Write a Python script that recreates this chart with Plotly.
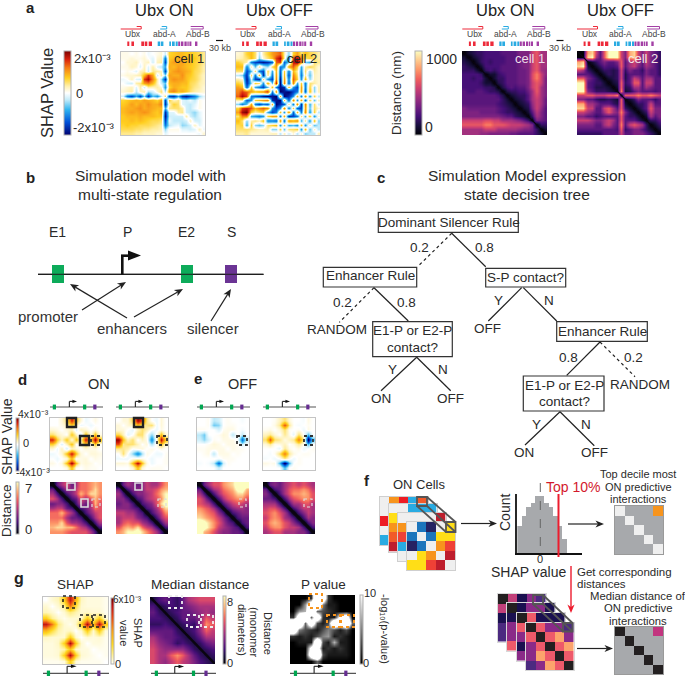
import math
import plotly.graph_objects as go

W, H = 685, 677
FONT = "Liberation Sans"
TXT = "#2a2a2a"

# ---------- data (upper triangles) ----------
shap_on_tri = [
 [1,1,0,1,0,1,-1,0,1,2,-3,8,9,10,10,9,9,8,7,5],
 [1,2,1,1,2,0,-2,2,3,-14,9,10,11,11,10,9,9,7,5],
 [2,3,0,2,3,-3,3,4,-18,10,12,11,12,10,10,8,7,5],
 [2,-2,3,-2,4,-2,-4,-10,11,10,12,11,10,9,8,6,4],
 [3,4,-3,5,4,3,-18,10,12,13,12,11,10,7,6,4],
 [10,18,12,-3,4,-6,12,11,11,13,10,9,7,5,3],
 [22,14,4,-5,-20,11,13,12,12,10,8,7,5,3],
 [10,3,-3,-8,10,11,11,10,10,7,6,4,3],
 [4,2,-12,8,11,10,9,9,7,5,4,2],
 [6,-4,12,14,10,11,9,6,4,3,2],
 [6,-18,-20,-10,-20,-22,-18,-14,-6,-2],
 [8,3,5,-2,-3,-1,-4,1,0],
 [8,6,-2,-3,-4,-2,1,0],
 [6,4,-3,-4,-1,1,0],
 [5,-3,-4,-6,-2,0],
 [4,-3,-5,-2,0],
 [3,-3,-3,0],
 [3,-2,0],
 [3,-1],
 [2]]
shap_off_tri = [
 [2,3,8,10,6,-4,4,8,12,14,16,4,-6,8,12,6,10,7,6,4],
 [4,6,10,6,-6,2,6,10,18,22,4,-14,18,22,14,6,8,6,4],
 [4,-14,-18,-20,-22,-20,-16,16,18,-16,-8,20,24,14,-6,-10,6,5],
 [4,-8,6,-2,-6,8,12,-14,-12,12,16,8,-10,4,8,5,2],
 [6,-14,-18,8,-10,10,-16,8,-14,10,4,-12,6,-6,4,2],
 [10,-20,6,-14,12,-18,10,-18,14,6,-14,4,-8,3,2],
 [6,-12,-18,14,-22,12,-14,16,8,-12,10,-6,3,2],
 [12,-8,20,-24,14,-16,14,-10,8,-14,6,4,2],
 [10,-14,-22,-20,10,-12,-18,12,-14,8,-6,3],
 [14,-24,-22,-24,-18,-14,12,-16,10,-6,3],
 [10,-24,-20,-12,10,-14,14,-12,8,-4],
 [8,-16,14,-12,12,-16,8,-8,3],
 [6,-14,14,-20,14,-10,6,-3],
 [8,-16,-18,12,-8,6,2],
 [10,-14,14,-12,8,-4],
 [6,-10,10,-12,2],
 [6,-12,10,-6],
 [4,-8,-4],
 [3,-4],
 [3]]
dist_on_tri = [
 [0,1,1.5,2,2,2.5,2.5,2.5,2.5,3,3,3,3,4,4,4,6,7,5,5],
 [0,1,1.5,2,2.5,2.5,2.5,2.5,2.5,3,3,3,3.5,4,4,6,7,5,5],
 [0,1,2,2.5,2,2.5,2.5,2.5,3,3,3,3.5,4,4,6,7,5,5],
 [0,1,2.5,2.5,2.5,2.5,3,3,3,3,3.5,4,4,6,7,5,5],
 [0,2,2.5,2,2.5,3,3,3,3,3.5,3.5,4,6,7,5,4.5],
 [0,1,1,2,2.5,3,3,3,3.5,3.5,4,6.5,8,6,4.5],
 [0,1,2,2,3,3,3,3.5,3.5,4,6.5,8,6,4],
 [0,1.5,2,3,3,3,3.5,3.5,4,6,7,6,4],
 [0,1.5,2.5,3,2.5,3,3,4,6,7,5,4],
 [0,1.5,2,2,2.5,2.5,3.5,5,7,5,4],
 [0,1,1.5,2,2,3,5,6.5,5,4],
 [0,1,1.5,2,3,5,6,5,3.5],
 [0,1,1.5,2,4.5,6,5,3.5],
 [0,1,1.5,4,6,4.5,3],
 [0,1,3,5.5,4,3],
 [0,2,5,4,3],
 [0,4,3.5,3],
 [0,2,2],
 [0,1],
 [0]]
dist_off_tri = [
 [0,0,9,10,6,3,7,11,11,11,6,4,9,10,6,4,6,4,3,2],
 [0,10,11,5,3,7,11,11,11,6,4,9,10,6,4,6,4,3,2],
 [0,1,2,3,4,3,3,4,7,3,5,6,5,3,6,4,3,2],
 [0,1,2,3,2.5,2.5,3,7,3,5,6,4,3,5,4,3,2],
 [0,1,2,2,1.5,2,6,2,4,3,3,2,4,3,3,2],
 [0,1,2,1.5,2,6,1.5,3,3,3,2.5,4,3,3,2],
 [0,1,1.5,2,6,1.5,3,6,5,3,5,5,3,3],
 [0,1,1.5,7,2,3,7,7,3,6,6,3,3],
 [0,1,7,1.5,2,5,5,3,5,4,3,3],
 [0,8,1,1.5,3,4,3,3,3,2.5,3],
 [0,7,7,7,8,7,7,8,7,6],
 [0,1,2,4,3,3,3,2,3],
 [0,1,2,2,3,6,3,3],
 [0,1,2,3,7,4,4],
 [0,1,2,6,4,4],
 [0,1,5,3,4],
 [0,2,2,3],
 [0,1,2],
 [0,1],
 [0]]
d1_shap_tri = [
 [0,0,.3,1,3.2,1.4,.3,-.2,0,.2,0],
 [0,.2,.5,1.4,.5,-.2,0,-.2,0,0],
 [0,.3,.5,-.4,.5,.3,0,.2,0],
 [0,1.5,.5,-.5,1.6,.2,1.6,.2],
 [.3,1.6,.5,3.4,1.6,3.8,1.6],
 [0,.3,1.5,0,1.5,.1],
 [0,.3,.2,.2,0],
 [0,.3,.3,.2],
 [0,.2,.1],
 [0,.1],
 [0]]
d2_shap_tri = [
 [0,.3,.3,1.2,3.8,2.8,.8,0,-.2,.3,0],
 [0,.3,.5,1.6,.8,.8,1,-.2,.3,0],
 [0,-.3,.5,1,.6,0,-.2,.2,0],
 [0,1,1,0,-1,.2,1.6,.3],
 [0,.5,.2,-2.2,.3,3.6,1.6],
 [0,.3,-.8,.2,1.6,.3],
 [0,.2,0,.2,0],
 [0,-.2,-.2,.1],
 [0,0,.1],
 [0,.1],
 [0]]
e1_shap_tri = [
 [0,0,.1,-.7,-.5,0,.1,0,0,-.1,0],
 [0,.1,-1.2,-1,0,.1,.1,0,0,0],
 [0,0,-.4,.1,.2,.2,0,-.1,0],
 [0,.1,.3,.2,-.7,.1,-.6,0],
 [0,.2,.2,.2,-.1,-2.6,-.6],
 [0,.2,.2,.1,-.5,0],
 [0,.2,.1,.1,0],
 [0,.1,0,0],
 [0,0,0],
 [0,0],
 [0]]
e2_shap_tri = [
 [0,0,.1,.5,1,.3,0,0,-.1,.2,0],
 [0,.2,.8,2.8,.8,0,-.1,0,.1,0],
 [0,.3,1,.1,0,.1,-.2,.2,0],
 [0,.8,.2,-.3,1,0,-1.4,0],
 [.2,.5,.8,2.4,.8,-4.4,-1.4],
 [0,.2,.8,.1,-1.4,0],
 [0,.2,-.2,0,.1],
 [0,.1,.1,0],
 [0,0,0],
 [0,0],
 [0]]
d1_dist_tri = [
 [0,2,3,4,2,3,4.5,4.5,5,5.5,5],
 [0,1.5,3,2.5,3.5,4.5,4.5,5,6,5],
 [0,1.5,2.5,3.5,5.5,4.5,6,6,5],
 [0,1.5,2,4,3,4,5.5,4.5],
 [0,1.5,3,2,3,5.5,4],
 [0,1.5,2,3,4.5,4],
 [0,1.5,2.5,3.5,4],
 [0,1.5,3,4],
 [0,1.5,3],
 [0,1.5],
 [0]]
d2_dist_tri = [
 [0,2,3,2.5,2,2.5,3.5,3,3,4,5],
 [0,1.5,2.5,2.5,2.5,3.5,3.5,4,5,5.5],
 [0,1.5,2.5,2.5,3,3.5,4.5,5.5,6.5],
 [0,1.5,2,3,3.5,4,5,6.5],
 [0,1.5,2,2.5,4,6,7],
 [0,1.5,2,3,4.5,6],
 [0,1.5,2.5,3.5,5],
 [0,1.5,3,4],
 [0,1.5,3],
 [0,1.5],
 [0]]
e1_dist_tri = [
 [0,2,3,4,4,5,5.5,6,7.5,8,7.5],
 [0,1.5,3,3.5,4.5,5,5.5,7,7.5,5.5],
 [0,1.5,3,4,4.5,5,6,6,5],
 [0,1.5,3,4,4.5,5,5,4],
 [0,1.5,2.5,3.5,4,3.5,3],
 [0,1.5,2.5,3,3,2.5],
 [0,1.5,2,2.5,2.5],
 [0,1.5,2,2],
 [0,1.5,2],
 [0,1.5],
 [0]]
e2_dist_tri = [
 [0,2,2.5,2,3,3.5,4,3.5,4,3.5,3],
 [0,1.5,2,3,4,4.5,4.5,5,4.5,3.5],
 [0,1.5,3,4,5,5,5.5,5,4],
 [0,1.5,3,4,4.5,5,5,4],
 [0,1.5,3,3,4,4,3],
 [0,1.5,2.5,3.5,3.5,3],
 [0,1.5,2.5,3.5,3],
 [0,1.5,3,2.5],
 [0,1.5,2.5],
 [0,1.5],
 [0]]
g_shap_tri = [
 [0,.3,.5,2,5.2,2.5,.4,.2,.2,.2,.1],
 [0,.3,.8,3.5,1.5,.3,.2,.2,.2,.1],
 [0,.3,1,.6,.3,.4,.3,.3,.1],
 [.1,.3,.3,.3,2,.6,2,.2],
 [.1,.4,2,5.5,2.2,5.5,2],
 [0,.3,2,.3,2,.2],
 [0,.3,.2,.3,.1],
 [0,.2,.2,.1],
 [0,.1,.1],
 [0,.1],
 [0]]
g_dist_tri = [
 [1,2,2.5,2,1.5,2.5,4,4.5,5,5,5],
 [1,1.5,2,1.5,2.5,3,3.5,4,4,4],
 [1,1.5,2,2.5,2.5,3,3.5,4,3.5],
 [1,1.5,2.5,2.5,2.5,3.5,5.5,4.5],
 [1,1.5,2,1.5,3.5,6.5,5.5],
 [1,1.5,2,3.5,5.5,4.5],
 [1,1.5,2.5,4,4],
 [1,1.5,2.5,3],
 [1,1.5,2],
 [1,1.5],
 [1]]
g_pval_tri = [
 [0,0,0,2,24,20,2,0,0,0,0],
 [0,6,16,24,5,1,1,0,0,0],
 [7,24,4,3,2,1,0,0,0],
 [4,18,2,1,1,12,16,0],
 [3,1,3,22,14,24,4],
 [3,5,3,1,3,0],
 [6,1,2,1,0],
 [7,1,1,0],
 [2,1,0],
 [1,0],
 [0]]

hist_counts = [80,112,138,150,172,172,150,138,112,80,42]

on_back  = [[0,1,2,4,8],[0,0,4,4,4],[2,0,0,3,0],[0,0,0,0,3],[4,0,0,0,0]]
on_mid1  = [[0,0,4,4,4],[7,0,0,4,4],[1,0,0,0,3],[8,9,0,0,0],[3,8,1,0,0]]
on_mid2  = [[0,0,0,0,3],[1,1,0,0,0],[9,9,0,0,0],[4,6,5,0,0],[0,7,7,1,0]]
on_front = [[0,5,6,0,7],[5,0,5,7,7],[6,5,0,1,9],[0,7,1,0,3],[7,7,9,3,0]]
top_decile = [[0,1,1,1,2],[1,0,1,1,1],[1,1,0,1,1],[1,1,1,0,1],[1,1,1,1,0]]

d_back  = [[0,1,2,3,4],[1,0,2,3,4],[2,2,0,2,3],[4,3,2,0,3],[4,3,3,3,0]]
d_mid1  = [[0,2,3,3,2],[2,0,2,3,2],[3,2,0,2,2],[3,3,2,0,2],[5,3,3,2,0]]
d_mid2  = [[0,5,2,2,2],[5,0,5,3,2],[3,5,0,5,3],[2,3,5,0,5],[3,2,3,5,0]]
d_front = [[0,5,3,3,4],[5,0,5,6,3],[3,5,0,5,6],[3,6,5,0,5],[4,3,6,5,0]]
median_on = [[0,1,1,1,2],[1,0,1,1,1],[1,1,0,1,1],[1,1,1,0,1],[1,1,1,1,0]]

# ---------- palettes ----------
SHAP_CS = [[0,"#00006f"],[.15,"#0050d8"],[.3,"#2fb4f0"],[.42,"#c4ecfa"],[.5,"#ffffff"],
           [.58,"#fff0ae"],[.68,"#ffcf20"],[.8,"#f57c14"],[.9,"#d8200c"],[1,"#7a0000"]]
G_CS = [[0,"#ffffff"],[.03,"#fffbe0"],[.12,"#fff2a0"],[.3,"#ffd820"],[.5,"#f9a018"],[.7,"#e84a14"],[.88,"#c01414"],[1,"#6e0000"]]
GREY_CS = [[0,"#000000"],[1,"#ffffff"]]
CELL_ON = ["#efefef","#f7941d","#ed1c24","#be1e2d","#29abe2","#1c75bc","#262262","#ffde17","#f15a29","#ef4136"]
CELL_TOP = ["#efefef","#a7a9ac","#f7941d"]
CELL_D = ["#231f20","#c2407a","#1a1050","#8a2a88","#4b2a80","#ee5a6a","#fca46c"]
CELL_MED = ["#231f20","#a7a9ac","#c2357f"]

def sym(tri):
    n = len(tri)
    m = [[0]*n for _ in range(n)]
    for i, row in enumerate(tri):
        for k, v in enumerate(row):
            m[i][i+k] = v
            m[i+k][i] = v
    return m

def steps(cols):
    n = len(cols)
    out = []
    for i, c in enumerate(cols):
        out += [[i/n, c], [(i+1)/n, c]]
    return out

fig = go.Figure()
shapes, annos = [], []
ax_i = 0

def px(x): return x / W
def py(y): return 1 - y / H

def new_axes(box, xr, yr, border="#c4c4c4"):
    global ax_i
    ax_i += 1
    s = "" if ax_i == 1 else str(ax_i)
    x0, y0, x1, y1 = box
    common = dict(showgrid=False, zeroline=False, showticklabels=False, ticks="",
                  showline=bool(border), mirror=bool(border), linecolor=border or "#fff", linewidth=1)
    fig.layout["xaxis"+s] = dict(domain=[px(x0), px(x1)], range=xr, anchor="y"+s, **common)
    fig.layout["yaxis"+s] = dict(domain=[py(y1), py(y0)], range=yr, anchor="x"+s, **common)
    return "x"+s, "y"+s

def heat(tri, box, cs, zmin, zmax, cb=None, diag=0, smooth="best", full=None, border="#c4c4c4"):
    z = full if full is not None else sym(tri)
    n = len(z)
    xa, ya = new_axes(box, [-.5, n-.5], [n-.5, -.5], border)
    tr = dict(z=z, colorscale=cs, zmin=zmin, zmax=zmax, xaxis=xa, yaxis=ya, showscale=False, hoverinfo="skip")
    if smooth:
        tr["zsmooth"] = smooth
    if cb:
        cx0, cy0, cx1, cy1 = cb
        tr.update(showscale=True, colorbar=dict(x=px(cx0), xanchor="left", y=py(cy0), yanchor="top",
                  len=cy1-cy0, lenmode="pixels", thickness=cx1-cx0, thicknessmode="pixels",
                  xpad=0, ypad=0, outlinewidth=1, outlinecolor="#b0b0b0", tickvals=[], showticklabels=False))
    fig.add_trace(go.Heatmap(**tr))
    if diag:
        fig.add_trace(go.Scatter(x=[-.5, n-.5], y=[-.5, n-.5], mode="lines", xaxis=xa, yaxis=ya,
                      line=dict(color="#0a0510", width=diag), showlegend=False, hoverinfo="skip"))

def T(x, y, s, size=12, color=TXT, angle=0, bold=False, anchor="center"):
    annos.append(dict(x=px(x), y=py(y), xref="paper", yref="paper", text=s, showarrow=False,
                      xanchor=anchor, yanchor="middle", textangle=angle,
                      font=dict(family=FONT, size=size, color=color, weight=700 if bold else 400)))

def L(x0, y0, x1, y1, color="#222", w=1.2, dash=None):
    line = dict(color=color, width=w)
    if dash:
        line["dash"] = dash
    shapes.append(dict(type="line", xref="paper", yref="paper", x0=px(x0), y0=py(y0), x1=px(x1), y1=py(y1),
                       line=line, layer="above"))

def R(x0, y0, x1, y1, line="#222", w=1.2, fill=None, dash=None):
    ln = dict(color=line, width=w)
    if dash:
        ln["dash"] = dash
    d = dict(type="rect", xref="paper", yref="paper", x0=px(x0), y0=py(y0), x1=px(x1), y1=py(y1),
             line=ln, layer="above")
    if fill:
        d["fillcolor"] = fill
    shapes.append(d)

def poly(pts, fill="#111"):
    p = "M " + " L ".join(f"{px(a)} {py(b)}" for a, b in pts) + " Z"
    shapes.append(dict(type="path", xref="paper", yref="paper", layer="above", fillcolor=fill,
                       line=dict(width=0), path=p))

def A(x0, y0, x1, y1, color="#222", w=1.2, hl=8.5, hw=3.6):
    d = math.hypot(x1-x0, y1-y0)
    ux, uy = (x1-x0)/d, (y1-y0)/d
    nx, ny = -uy, ux
    bx, by = x1-ux*hl, y1-uy*hl
    nb = .72
    L(x0, y0, x1-ux*hl*nb, y1-uy*hl*nb, color, w)
    poly([(x1,y1), (bx+nx*hw, by+ny*hw), (x1-ux*hl*nb, y1-uy*hl*nb), (bx-nx*hw, by-ny*hw)], color)

def tri_head(x0, ytop, ybot, xtip):
    poly([(x0,ytop), (xtip,(ytop+ybot)/2), (x0,ybot)])

# ---------- panel a ----------
T(30, 7.5, "a", 15, "#222", bold=True)
T(47, 93, "SHAP Value", 16.5, angle=-90)
T(92, 59, "2x10\u207b\u00b3", 13); T(79, 93, "0", 13); T(94, 127, "-2x10\u207b\u00b3", 13)
T(396, 93, "Distance (nm)", 13.5, angle=-90)
T(441, 59, "1000", 14); T(429, 127, "0", 14)

heat(shap_on_tri, (121,52,205,135), SHAP_CS, -24, 24, cb=(64,51,71,135))
heat(shap_off_tri, (236,52,320,135), SHAP_CS, -24, 24)
heat(dist_on_tri, (462,51,547,135), "Magma", 0, 11, cb=(415,51,422,135), diag=1.2, border=None)
heat(dist_off_tri, (577,51,661,135), "Magma", 0, 11, diag=1.2, border=None)

T(189, 59, "cell 1", 13, "#222"); T(302, 59, "cell 2", 13, "#222")
T(530, 59, "cell 1", 13, "#eedfe8"); T(643, 59, "cell 2", 13, "#f4e6e6")

RED, BLUE, PUR = "#ed2a3a", "#29abe2", "#a33fa5"
tick_groups = [(RED,[(6.6,8.6),(10.7,13.3),(20.6,23.3),(24,26.6),(28,31.3)]),
               (BLUE,[(37,39.3),(40,42.7),(48.6,50.3),(51.3,54),(55,57)]),
               (PUR,[(57.5,59.5),(60.3,62.7),(63.7,66),(66.7,68),(68.7,70.7),(74.3,76.7)])]
for x0, title in [(120.7,"Ubx ON"), (235.5,"Ubx OFF"), (462.3,"Ubx ON"), (577,"Ubx OFF")]:
    T(x0+43.5, 10, title, 16.5, "#222")
    L(x0, 29, x0+20.5, 29, RED, 1)
    L(x0+20.5, 29, x0+20.5, 26.5, RED, 1); L(x0+20.5, 26.5, x0+16, 26.5, RED, 1)
    L(x0+39.5, 29, x0+46, 29, BLUE, 1); L(x0+46, 29, x0+46, 26.5, BLUE, 1); L(x0+46, 26.5, x0+41, 26.5, BLUE, 1)
    L(x0+70, 29, x0+82.5, 29, PUR, 1); L(x0+82.5, 29, x0+82.5, 26.5, PUR, 1); L(x0+82.5, 26.5, x0+70, 26.5, PUR, 1)
    T(x0+12.5, 34, "Ubx", 8.5, "#444"); T(x0+43.5, 34, "abd-A", 8.5, "#444"); T(x0+77, 34, "Abd-B", 8.5, "#444")
    for col, segs in tick_groups:
        for a, b in segs:
            R(x0+a, 41.5, x0+b, 46, line=col, w=0, fill=col)
for xb, xt in [(219.5,220), (560,560)]:
    L(xb-3.5, 40.5, xb+3.5, 40.5, "#111", 1.2)
    T(xt, 47.5, "30 kb", 9, "#444")

# ---------- panel b ----------
T(30, 177, "b", 15, "#222", bold=True)
T(150, 175, "Simulation model with", 15.5); T(150, 194, "multi-state regulation", 15.5)
T(57, 232, "E1", 14); T(127, 232, "P", 14); T(187, 232, "E2", 14); T(231, 232, "S", 14)
L(38, 274.3, 263.5, 274.3, "#111", 1.2)
R(52, 265, 64, 283, line="#00a651", w=0, fill="rgba(0,166,81,.95)")
R(181, 265, 193, 283, line="#00a651", w=0, fill="rgba(0,166,81,.95)")
R(225, 265, 237, 283, line="#662d91", w=0, fill="rgba(102,45,145,.97)")
L(38, 274.3, 263.5, 274.3, "#222", 1)
L(122.3, 274.5, 122.3, 255.7, "#111", 2.6); L(121, 255.7, 130, 255.7, "#111", 2.6)
tri_head(128, 250.5, 260.5, 141)
A(82, 310, 126, 282); A(127, 318, 70, 284); A(134, 317, 183, 289); A(211, 321, 231, 289)
T(48, 316, "promoter", 15, "#333"); T(132, 328, "enhancers", 15, "#333"); T(213, 328, "silencer", 15, "#333")

# ---------- panel c ----------
T(381, 177, "c", 15, "#222", bold=True)
T(527, 175, "Simulation Model expression", 15.5); T(527, 194, "state decision tree", 15.5)
for b in [(378.3,212.3,518.3,232.3),(323.3,267.3,416.7,287),(485.7,268.3,565.7,287),
          (372.7,321.7,452.3,356.7),(556.7,321.7,647.3,341.3),(523.3,376,604,411)]:
    R(*b, line="#333", w=1.2)
TS = 13.5
T(448.5, 222, "Dominant Silencer Rule", TS); T(370, 275.7, "Enhancer Rule", TS)
T(525.5, 277.5, "S-P contact?", TS); T(412.5, 330.5, "E1-P or E2-P", TS); T(412.5, 347, "contact?", TS)
T(602, 331, "Enhancer Rule", TS); T(564, 385, "E1-P or E2-P", TS); T(564, 401.5, "contact?", TS)
for seg in [(451.7,233.3,485.7,266.7),(374,287.7,408.3,321),(521.7,287.7,488.3,321),(523.3,287.7,556.7,321),
            (416.7,357.3,381,390.7),(416.7,357.3,450.7,390.7),(600,342,566.7,375.3),
            (560,411.7,525,445),(560,411.7,594.3,445.7)]:
    L(*seg)
for seg in [(451.7,233.3,418.3,266),(374,287.7,339.3,322.3),(600,342,635,376.7)]:
    L(*seg, dash="dot")
for x, y, s in [(419.3,247.7,"0.2"),(484,247.7,"0.8"),(342.3,302.3,"0.2"),(406.7,302.3,"0.8"),
                (499,300,"Y"),(549,300,"N"),(336.7,329.3,"RANDOM"),(487.7,328.3,"OFF"),
                (392.3,369.3,"Y"),(442.7,369.3,"N"),(381,398.3,"ON"),(450.7,398.3,"OFF"),
                (568.7,357.3,"0.8"),(633.3,357.3,"0.2"),(640,384.3,"RANDOM"),(536,424.3,"Y"),
                (586,424.3,"N"),(524.3,452.7,"ON"),(594,452.7,"OFF")]:
    T(x, y, s, TS)

# ---------- tracks for d, e, g ----------
def track(x0, x1, y):
    k = (x1-x0)/52
    L(x0, y, x1, y, "#555", 1.2)
    for rel, col in [(4.3,"#00a651"),(34,"#00a651"),(44,"#662d91")]:
        R(x0+rel*k-1.6, y-2.4*(k**.5), x0+rel*k+1.6, y+2.4*(k**.5), line=col, w=0, fill=col)
    ax = x0 + 19*k
    L(ax, y, ax, y-5.5*k, "#222", 1.1); L(ax, y-5.5*k, ax+3.5*k, y-5.5*k, "#222", 1.1)
    tri_head(ax+3*k, y-5.5*k-1.7, y-5.5*k+1.7, ax+7.5*k)

# ---------- panel d, e ----------
T(22, 380, "d", 15, "#222", bold=True); T(99, 384, "ON", 14.5)
T(197.7, 378, "e", 15, "#222", bold=True); T(243, 384, "OFF", 14.5)
T(7, 437, "SHAP Value", 14, angle=-90); T(7, 511, "Distance", 13.5, angle=-90)
T(33, 414, "4x10\u207b\u00b3", 10.5); T(26, 443, "0", 11); T(33, 472, "-4x10\u207b\u00b3", 10.5)
T(28, 488, "7", 13); T(28, 529, "0", 13)

col_x = [(50,102),(116,168),(197,249),(263,315)]
shap_tris = [d1_shap_tri, d2_shap_tri, e1_shap_tri, e2_shap_tri]
dist_tris = [d1_dist_tri, d2_dist_tri, e1_dist_tri, e2_dist_tri]
for i, ((a, b), st, dt) in enumerate(zip(col_x, shap_tris, dist_tris)):
    heat(st, (a,418,b,470), SHAP_CS, -4, 4, cb=(16,418,19,471) if i == 0 else None)
    heat(dt, (a,482,b,534), "Magma", 0, 6.5, cb=(16,482,19,534) if i == 0 else None, diag=3, border=None)
    track(a, b+1, 407)

for b in [(67,418,76,427),(80,436,89,445),(134,418,143,427)]:
    R(*b, line="#222", w=2.4)
for b in [(91,436,100,445),(157,436,167,445),(237,436,247,445),(304,436,313,445)]:
    R(*b, line="#333", w=1.8, dash="dot")
for b in [(67,483,75,490),(81,499,88,507),(135,483,142,490)]:
    R(*b, line="#ddd", w=1.6)
for b in [(92,499,100,507),(158,499,166,507),(239,499,246,507),(304,499,312,507)]:
    R(*b, line="#ddd", w=1.2, dash="dot")

# ---------- panel g ----------
T(19, 578, "g", 16, "#222", bold=True)
T(75, 584, "SHAP", 13.5); T(200, 584, "Median distance", 13.5); T(323, 584, "P value", 13.5)
heat(g_shap_tri, (43,597,108,664), G_CS, 0, 6, cb=(111,598,114,664))
heat(g_dist_tri, (150,597,215,664), "Magma", 0, 8.5, cb=(223,596,226,664), diag=2.5, border=None)
heat(g_pval_tri, (290,595,355,664), GREY_CS, 0, 10, cb=(360,595,363,664), border=None)
T(128, 599, "6x10\u207b\u00b3", 10); T(118, 664, "0", 11)
T(138, 633, "SHAP", 11, angle=90); T(124, 633, "value", 11, angle=90)
T(230, 602, "8", 11); T(230, 663, "0", 11)
T(268, 633, "Distance", 11, angle=90); T(254, 632, "(monomer", 11, angle=90); T(242, 630, "diameters)", 11, angle=90)
T(370, 593, "10", 11); T(366, 663, "0", 11)
T(385, 629, "-log\u2081\u2080(p-value)", 11, angle=90)
for b in [(63,596,75,608),(80,615,92,627),(93,615,105,627)]:
    R(*b, line="#222", w=1.6, dash="dot")
for b in [(169,596,182,608),(187,615,199,627),(201,615,213,627)]:
    R(*b, line="#eee", w=1.8, dash="dot")
for b in [(309,594,322,608),(327,615,340,627),(341,615,354,627)]:
    R(*b, line="#f7941d", w=2, dash="dot")
for a, b in [(43,109),(151,216),(290,356)]:
    track(a, b, 673.3)

# ---------- panel f ----------
T(367, 481, "f", 15, "#222", bold=True)
T(419, 484, "ON Cells", 13)
on_stack = [(on_back,(379.5,497,427.5,545)),(on_mid1,(388.5,503.5,436.5,551.5)),
            (on_mid2,(397.5,513,445.5,561)),(on_front,(407,522,455,570))]
for z, box in on_stack:
    heat(None, box, steps(CELL_ON), -.5, 9.5, smooth=None, full=z, border="#cfcfcf")
d_stack = [(d_back,(498,594,545.5,641.5)),(d_mid1,(507,603,554.5,650.5)),
           (d_mid2,(517,613,564.5,660.5)),(d_front,(526,622.5,573.5,670))]
for z, box in d_stack:
    heat(None, box, steps(CELL_D), -.5, 6.5, smooth=None, full=z, border="#d8d8d8")
heat(None, (615,506,663,554), steps(CELL_TOP), -.5, 2.5, smooth=None, full=top_decile, border="#9a9a9a")
heat(None, (615,627,663,674), steps(CELL_MED), -.5, 2.5, smooth=None, full=median_on, border="#9a9a9a")

for p in [(417,497,427,506,446,522,455.5,532),(533,595,543,604,563,623,572.5,631.5)]:
    a,b,c,d,e,f_,g_,h = p
    R(a,b,c,d, line="#555", w=1.8); R(e,f_,g_,h, line="#555", w=1.8)
    L(c,b,g_,f_, "#555", 1.8); L(a,d,e,h, "#555", 1.8); L(c,d,g_,h, "#555", 1.8)

xa, ya = new_axes((517.3,493.3,567.3,553.5), [-.5,10.5], [0,180], border=None)
fig.add_trace(go.Bar(x=list(range(len(hist_counts))), y=hist_counts, width=1, marker=dict(color="#a7a9ac", line=dict(width=0)),
                     xaxis=xa, yaxis=ya, showlegend=False, hoverinfo="skip"))
L(516, 494, 516, 554.5, "#111", 1.8); L(515, 554, 582, 554, "#111", 1.8)
L(540.3, 483, 540.3, 553, "#666", 1, dash="dash")
L(558.5, 494, 558.5, 557, "#ed1c2e", 2)
T(573, 487, "Top 10%", 14, "#d3192c")
T(505, 513, "Count", 14, angle=-90)
T(540, 559, "0", 11); T(528, 572, "SHAP value", 14)
A(461, 523.5, 497, 523.5, "#222", 1.2); A(568, 524, 604, 524, "#222", 1.2); A(577, 648.5, 613, 648.5, "#222", 1.2)
A(571, 566, 571, 613, "#ed1c2e", 1.4)
T(638, 474, "Top decile most", 11); T(638, 487, "ON predictive", 11); T(638, 499, "interactions", 11)
T(575, 571.5, "Get corresponding", 11.5, anchor="left"); T(575, 583.5, "distances", 11.5, anchor="left")
T(638, 595.5, "Median distance of", 11.3); T(638, 608, "ON predictive", 11.3); T(638, 621, "interactions", 11.3)

fig.update_layout(width=W, height=H, autosize=False, paper_bgcolor="#fff", plot_bgcolor="#fff",
                  margin=dict(l=0, r=0, t=0, b=0, pad=0, autoexpand=False), showlegend=False,
                  bargap=0, shapes=shapes, annotations=annos, font=dict(family=FONT, color=TXT))

fig.write_html("out.html", config={"displayModeBar": False},
               post_script="document.body.style.margin='0';document.documentElement.style.overflow='hidden';window.dispatchEvent(new Event('resize'));")
